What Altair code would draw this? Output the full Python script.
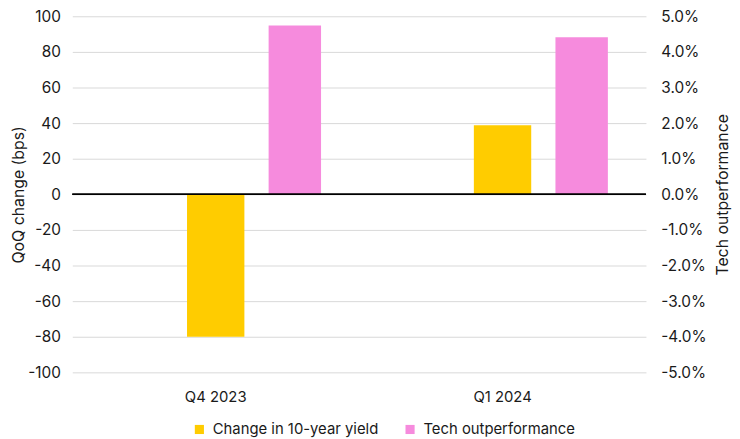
import altair as alt
import pandas as pd

categories = ["Q4 2023", "Q1 2024"]
yield_change = [-80, 38.8]          # bps, left axis
tech_outperf = [0.0474, 0.0441]     # fraction, right axis
series_names = ["Change in 10-year yield", "Tech outperformance"]
colors = ["#FFCC00", "#F68BDD"]
left_ticks = [-100, -80, -60, -40, -20, 0, 20, 40, 60, 80, 100]
right_ticks = [-0.05, -0.04, -0.03, -0.02, -0.01, 0.0, 0.01, 0.02, 0.03, 0.04, 0.05]

df_yield = pd.DataFrame({"category": categories, "value": yield_change,
                         "series": series_names[0], "slot": "yield"})
df_tech = pd.DataFrame({"category": categories, "value": tech_outperf,
                        "series": series_names[1], "slot": "tech"})

FONT = "Inter"
TXT = "#1a1a1a"

x_enc = alt.X("category:N", sort=categories,
              scale=alt.Scale(paddingInner=0, paddingOuter=0),
              axis=alt.Axis(title=None, labelAngle=0, domain=False, ticks=False,
                            labelPadding=17, labelFontSize=15, labelColor=TXT))
xoff = alt.XOffset("slot:N", scale=alt.Scale(domain=["blank", "yield", "tech"],
                                             paddingInner=0.275, paddingOuter=0.45))
color_enc = alt.Color("series:N",
                      scale=alt.Scale(domain=series_names, range=colors),
                      legend=alt.Legend(title=None, orient="none", direction="horizontal",
                                        legendX=121, legendY=410,
                                        symbolType="square", symbolSize=85,
                                        symbolStrokeWidth=0, labelFontSize=15,
                                        labelColor=TXT, labelOffset=6, columnPadding=24,
                                        labelLimit=400))

left_axis = alt.Axis(title="QoQ change (bps)", values=left_ticks, grid=True,
                     gridColor="#d9d9d9", domain=False, ticks=False,
                     labelExpr="replace(format(datum.value, 'd'), '\u2212', '-')",
                     labelPadding=12, labelFontSize=15.5, labelColor=TXT,
                     labelOverlap=False,
                     titleFontSize=16, titleFontWeight="normal", titleColor=TXT,
                     titlePadding=1)
right_axis = alt.Axis(title="Tech outperformance", orient="right",
                      labelExpr="replace(format(datum.value, '.1%'), '\u2212', '-')",
                      values=right_ticks, grid=False, domain=False, ticks=False,
                      labelOverlap=False,
                      labelPadding=15, labelFontSize=15.5, labelColor=TXT,
                      titleFontSize=16, titleFontWeight="normal", titleColor=TXT,
                      titleAngle=270, titlePadding=25)
left_scale = alt.Scale(domain=[-100, 100], nice=False, zero=False)
right_scale = alt.Scale(domain=[-0.05, 0.05], nice=False, zero=False)

yellow = alt.Chart(df_yield).mark_bar().encode(
    x=x_enc, xOffset=xoff,
    y=alt.Y("value:Q", scale=left_scale, axis=left_axis),
    color=color_enc,
)

pink = alt.Chart(df_tech).mark_bar(width=53).encode(
    x=x_enc, xOffset=xoff,
    y=alt.Y("value:Q", scale=right_scale, axis=right_axis),
    color=color_enc,
)

zero_rule = alt.Chart(df_tech).mark_rule(color="black", strokeWidth=1.5).encode(
    y=alt.Y(datum=0, type="quantitative", scale=right_scale, axis=right_axis)
)

chart = alt.layer(yellow, alt.layer(pink, zero_rule)).resolve_scale(
    y="independent"
).properties(
    width=580, height=360,
    autosize=alt.AutoSizeParams(type="none"),
    padding={"left": 65, "top": 6, "right": 87, "bottom": 65},
).configure(font=FONT).configure_view(stroke=None)

chart.save("out.html", embed_options={"renderer": "svg", "actions": False})
